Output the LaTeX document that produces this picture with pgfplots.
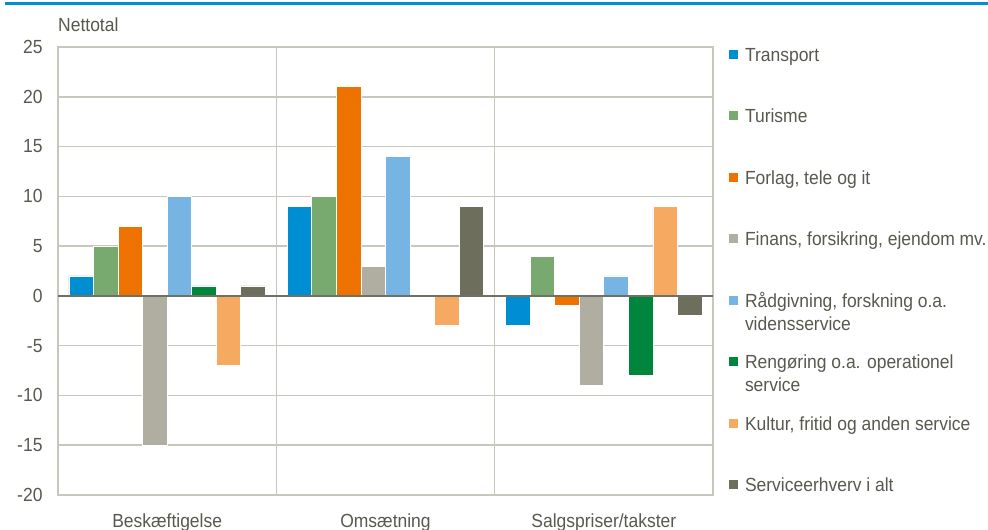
\documentclass[border=0pt]{standalone}
\usepackage{pgfplots}
\pgfplotsset{compat=1.18}
\usepackage{pgfplotstable}
\usepackage{fontspec}
\setmainfont{Liberation Sans}[FakeStretch=0.92]
\definecolor{ctrans}{RGB}{0,142,211}
\definecolor{ctur}{RGB}{120,169,110}
\definecolor{cforl}{RGB}{238,114,0}
\definecolor{cfin}{RGB}{176,174,160}
\definecolor{craad}{RGB}{118,180,228}
\definecolor{creng}{RGB}{0,133,60}
\definecolor{ckult}{RGB}{246,169,96}
\definecolor{cserv}{RGB}{110,110,92}
\definecolor{txt}{RGB}{88,88,78}
\definecolor{gridc}{RGB}{200,199,188}
\definecolor{zeroc}{RGB}{112,112,100}
\definecolor{topblue}{RGB}{0,145,210}
\pgfplotstableread{
x trans tur forl fin raad reng kult serv
0 2 5 7 -15 10 1 -7 1
1 9 10 21 3 14 0 -3 9
2 -3 4 -1 -9 2 -8 9 -2
}\data
\newcommand{\fnt}{\fontsize{19bp}{23bp}\selectfont}
\begin{document}
\begin{tikzpicture}
\useasboundingbox (0,0) rectangle (988bp,530bp);
\draw[topblue, line width=3bp] (5bp,526bp) -- (988bp,526bp);
\node[anchor=base west, inner sep=0pt, font=\fnt, text=txt] at (58bp,498bp) {Nettotal};
\begin{axis}[
 at={(58bp,35bp)}, anchor=south west, scale only axis,
 width=655bp, height=448bp,
 xmin=-0.5, xmax=2.5, ymin=-20, ymax=25,
 ybar=0pt, bar width=0.1125,
 xtick={0,1,2}, xticklabels={Beskæftigelse,Omsætning,Salgspriser/takster},
 minor xtick={0.5,1.5}, xminorgrids=true,
 ytick={-20,-15,...,25}, ymajorgrids=true,
 major tick length=0pt, minor tick length=0pt,
 grid style={draw=gridc, line width=1.5bp},
 minor grid style={draw=gridc, line width=1.5bp},
 axis line style={draw=gridc, line width=1.5bp},
 tick label style={font=\fnt, text=txt},
 /pgf/number format/assume math mode=true,
 yticklabel style={xshift=-12bp},
 xticklabel style={yshift=-15bp},
 legend cell align=left,
 legend style={at={(1,1)}, anchor=north west, xshift=16bp, draw=none, fill=none,
   inner sep=0pt, outer sep=0pt, font=\fnt, text=txt, row sep=47.5bp,
   nodes={text height=14bp, text depth=0bp, inner ysep=0pt, inner xsep=0pt},
   /tikz/every odd column/.append style={column sep=7bp}},
 legend image code/.code={\fill[#1,draw=none] (0bp,-4.5bp) rectangle (9bp,4.5bp);},
]
\addplot[fill=ctrans, draw=white, line width=0.8bp] table[x=x,y=trans] {\data};
\addlegendentry{Transport}
\addplot[fill=ctur, draw=white, line width=0.8bp] table[x=x,y=tur] {\data};
\addlegendentry{Turisme}
\addplot[fill=cforl, draw=white, line width=0.8bp] table[x=x,y=forl] {\data};
\addlegendentry{Forlag, tele og it}
\addplot[fill=cfin, draw=white, line width=0.8bp] table[x=x,y=fin] {\data};
\addlegendentry{Finans, forsikring, ejendom mv.}
\addplot[fill=craad, draw=white, line width=0.8bp] table[x=x,y=raad] {\data};
\addlegendentry{\begin{tabular}[t]{@{}l@{}}Rådgivning, forskning o.a.\\vidensservice\end{tabular}}
\addplot[fill=creng, draw=white, line width=0.8bp] table[x=x,y=reng] {\data};
\addlegendentry{\begin{tabular}[t]{@{}l@{}}Rengøring o.a. operationel\\service\end{tabular}}
\addplot[fill=ckult, draw=white, line width=0.8bp] table[x=x,y=kult] {\data};
\addlegendentry{Kultur, fritid og anden service}
\addplot[fill=cserv, draw=white, line width=0.8bp] table[x=x,y=serv] {\data};
\addlegendentry{Serviceerhverv i alt}
\draw[zeroc, line width=2.2bp] (axis cs:-0.5,0) -- (axis cs:2.5,0);
\end{axis}
\end{tikzpicture}
\end{document}
